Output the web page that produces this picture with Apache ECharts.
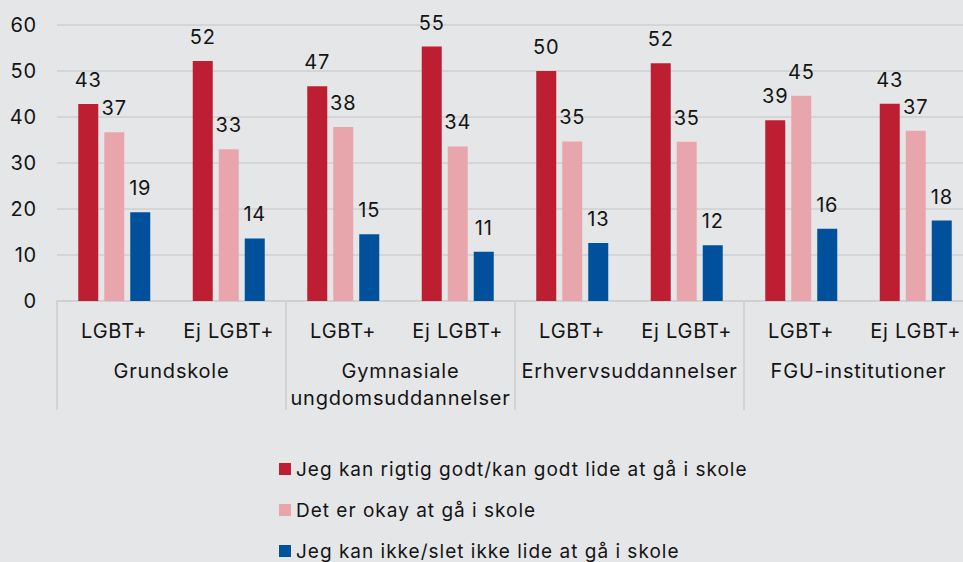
<!DOCTYPE html>
<html>
<head>
<meta charset="utf-8">
<script src="https://cdn.jsdelivr.net/npm/echarts@6/dist/echarts.min.js"></script>
<style>
  html, body { margin: 0; padding: 0; background: #e5e6e8; }
  #chart { width: 963px; height: 562px; }
  /* the source font is set a little loose */
  #chart text { letter-spacing: 0.8px; }
  #chart text[style*="19px"] { letter-spacing: 1px; }
</style>
</head>
<body>
<div id="chart"></div>
<script>
// data
var categories = ['LGBT+', 'Ej LGBT+', 'LGBT+', 'Ej LGBT+', 'LGBT+', 'Ej LGBT+', 'LGBT+', 'Ej LGBT+'];
var groups = ['Grundskole', 'Gymnasiale\nungdomsuddannelser', 'Erhvervsuddannelser', 'FGU-institutioner'];
var seriesNames = [
	'Jeg kan rigtig godt/kan godt lide at gå i skole',
	'Det er okay at gå i skole',
	'Jeg kan ikke/slet ikke lide at gå i skole'
];
var likeValues = [42.8, 52.2, 46.7, 55.3, 50.0, 51.7, 39.3, 42.9];
var okayValues = [36.7, 33.0, 37.8, 33.6, 34.7, 34.6, 44.6, 37.0];
var dislikeValues = [19.3, 13.6, 14.5, 10.7, 12.6, 12.1, 15.7, 17.5];
var yTicks = {min: 0, max: 60, interval: 10};

var colors = ['#be1e32', '#e8a6ac', '#00509b'];
var textColor = '#141414';
var fontFamily = 'Inter, "Noto Sans", sans-serif';

var chart = echarts.init(document.getElementById('chart'), null, {renderer: 'svg'});

function barSeries(name, data, color) {
	return {
		name: name,
		type: 'bar',
		data: data,
		barWidth: 20,
		barGap: '30%',
		itemStyle: {color: color},
		label: {
			show: true,
			position: 'top',
			distance: 14,
			fontSize: 20,
			fontFamily: fontFamily,
			color: textColor,
			formatter: function (p) { return Math.round(p.value); }
		}
	};
}

chart.setOption({
	backgroundColor: '#e5e6e8',
	animation: false,
	textStyle: {fontFamily: fontFamily},
	grid: {left: 57, top: 25, width: 916, height: 276, outerBoundsMode: 'none'},
	legend: {
		orient: 'vertical',
		left: 279,
		top: 459,
		padding: 0,
		icon: 'rect',
		itemWidth: 12,
		itemHeight: 12,
		itemGap: 21,
		textStyle: {fontSize: 19, color: textColor, fontFamily: fontFamily, lineHeight: 20},
		data: seriesNames
	},
	xAxis: [{
		type: 'category',
		data: categories,
		axisLine: {show: true, lineStyle: {color: '#cfd0d2', width: 2}},
		axisTick: {show: false},
		axisLabel: {interval: 0, margin: 16, fontSize: 20, color: textColor, lineHeight: 27}
	}, {
		type: 'category',
		data: groups,
		position: 'bottom',
		axisLine: {show: false},
		axisTick: {show: true, interval: 0, length: 109, lineStyle: {color: '#d2d3d5', width: 2}},
		axisLabel: {interval: 0, margin: 56, fontSize: 20, color: textColor, lineHeight: 27, align: 'center'}
	}],
	yAxis: {
		type: 'value',
		min: yTicks.min,
		max: yTicks.max,
		interval: yTicks.interval,
		axisLine: {show: false},
		axisTick: {show: false},
		axisLabel: {margin: 20, fontSize: 20, color: textColor},
		splitLine: {lineStyle: {color: '#d4d5d7', width: 2}}
	},
	series: [
		barSeries(seriesNames[0], likeValues, colors[0]),
		barSeries(seriesNames[1], okayValues, colors[1]),
		barSeries(seriesNames[2], dislikeValues, colors[2])
	]
});
</script>
</body>
</html>
